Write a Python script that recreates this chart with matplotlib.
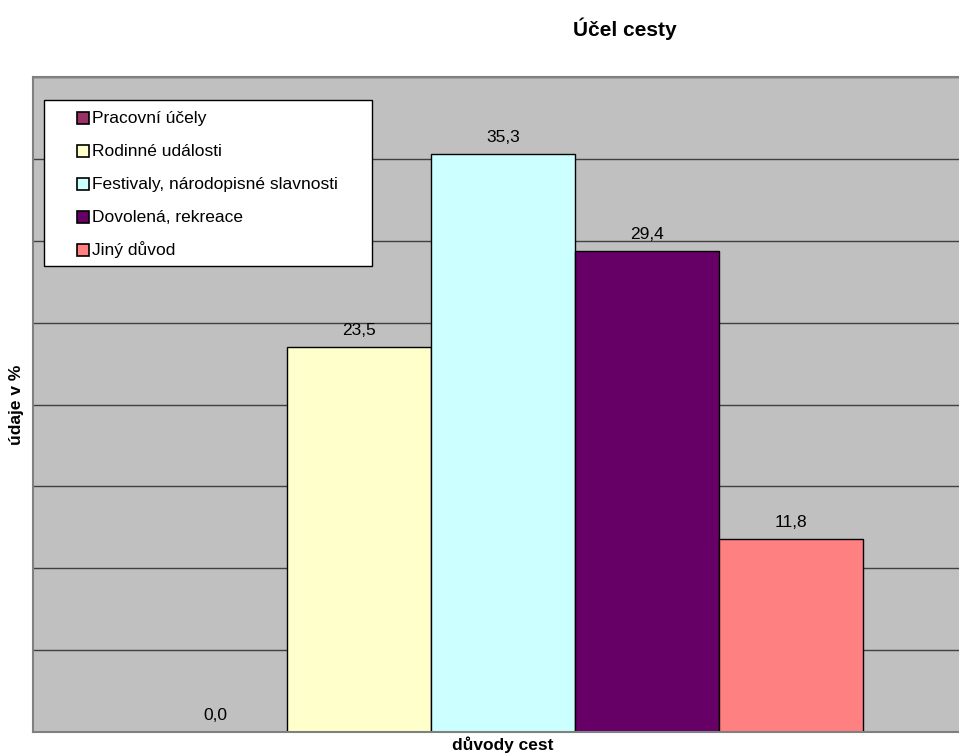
import matplotlib.pyplot as plt
from matplotlib.patches import Rectangle

plt.rcParams['font.family'] = ['Liberation Sans', 'DejaVu Sans']

series = ["Pracovní účely", "Rodinné události", "Festivaly, národopisné slavnosti",
          "Dovolená, rekreace", "Jiný důvod"]
values = [0.0, 23.5, 35.3, 29.4, 11.8]
colors = ["#993366", "#FFFFCC", "#CCFFFF", "#660066", "#FF8080"]

W, H = 959, 756
fig = plt.figure(figsize=(W / 100, H / 100), dpi=100)


def fx(px):
    return px / W


def fy(py):
    return 1 - py / H


# plot area runs past the right edge of the picture, as in the source
ax = fig.add_axes([fx(33), fy(732), (973 - 33) / W, (732 - 77) / H])
ax.set_facecolor("#C0C0C0")

x = list(range(len(values)))
ax.bar(x, values, width=1.0, color=colors, edgecolor="black", linewidth=1, zorder=2)
for xi, v in zip(x, values):
    ax.text(xi, v + 0.55, f"{v:.1f}".replace(".", ","), ha="center", va="bottom",
            fontsize=12.5, zorder=4)

ax.set_ylim(0, 40)
ax.set_xlim(-1.264, 5.264)
ax.set_yticks(range(0, 41, 5))
ax.yaxis.grid(True, color="#404040", linewidth=1, zorder=0)
ax.set_axisbelow(True)
ax.tick_params(left=False, bottom=False, labelleft=False, labelbottom=False)
for s in ax.spines.values():
    s.set_color("#808080")
    s.set_linewidth(1.5)

fig.text(fx(625), fy(29), "Účel cesty", ha="center", va="center",
         fontsize=15, fontweight="bold")
fig.text(fx(503), fy(745), "důvody cest", ha="center", va="center",
         fontsize=12.5, fontweight="bold")
fig.text(fx(17), fy(405), "údaje v %", ha="center", va="center",
         fontsize=12.5, fontweight="bold", rotation=90)

# legend box drawn by hand to get the wide side padding of the original
fig.add_artist(Rectangle((fx(44), fy(266)), (372 - 44) / W, (266 - 100) / H,
                         transform=fig.transFigure, facecolor="white",
                         edgecolor="black", linewidth=1, zorder=5))
for i, (name, c) in enumerate(zip(series, colors)):
    yc = 118 + 33 * i
    fig.add_artist(Rectangle((fx(77), fy(yc + 6)), 12 / W, 12 / H,
                             transform=fig.transFigure, facecolor=c,
                             edgecolor="black", linewidth=1.2, zorder=6))
    fig.text(fx(92), fy(yc), name, ha="left", va="center", fontsize=12.5, zorder=6)

fig.savefig("out.png", dpi=100)
